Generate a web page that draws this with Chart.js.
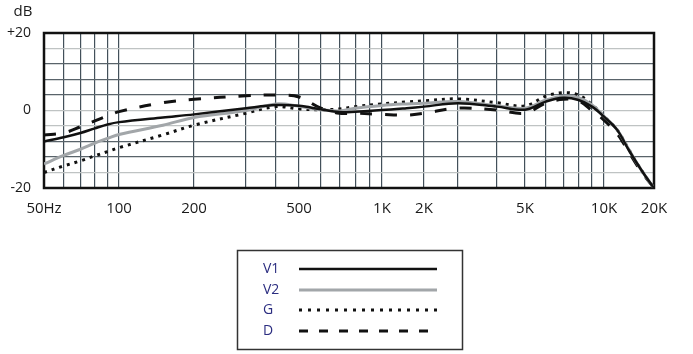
<!DOCTYPE html>
<html>
<head>
<meta charset="utf-8">
<script src="https://cdn.jsdelivr.net/npm/chart.js@4.4.1/dist/chart.umd.min.js"></script>
<style>
  html, body { margin: 0; padding: 0; background: #fff; }
  #wrap { width: 693px; height: 354px; position: relative; }
</style>
</head>
<body>
<div id="wrap"><canvas id="fr"></canvas></div>
<script>
// ====================== DATA ======================
const freqs = [50, 60, 70, 80, 90, 100, 150, 200, 300, 400, 500, 600, 700, 800, 1000, 1500,
  2000, 3000, 4000, 5000, 6000, 7000, 8000, 9000, 10000, 12000, 14000, 16000, 18000, 20000];

const v1 = [-8.0, -6.9, -5.8, -4.6, -3.6, -3.0, -1.8, -1.0, 0.6, 1.4, 1.2, 0.3, -0.4, -0.3, 0.1, 0.6,
  1.0, 1.9, 1.0, 0.2, 2.3, 3.3, 2.7, 1.0, -1.6, -5.0, -10.0, -14.0, -17.3, -20.0];
const v2 = [-13.8, -11.6, -10.0, -8.4, -7.2, -6.2, -3.8, -1.8, 0.0, 1.7, 1.1, 0.2, -0.1, 0.6, 1.3, 1.7,
  1.9, 2.3, 1.2, 0.6, 2.7, 3.7, 3.3, 1.4, -1.5, -5.0, -9.8, -14.0, -17.3, -20.0];
const g = [-16.0, -14.3, -13.0, -11.7, -10.6, -9.6, -6.3, -3.8, -0.7, 1.0, 0.4, 0.2, 0.4, 1.0, 1.7, 2.2,
  2.5, 3.0, 2.0, 1.2, 3.7, 4.6, 4.0, 1.5, -1.5, -5.0, -9.8, -14.0, -17.3, -20.0];
const d = [-6.3, -5.8, -4.2, -2.7, -1.4, -0.3, 2.0, 2.9, 3.8, 4.0, 3.5, 0.6, -0.7, -0.7, -1.0, -1.2,
  -0.7, 0.6, 0.1, -0.7, 1.9, 2.9, 2.5, 0.0, -2.5, -6.0, -10.5, -14.5, -17.5, -20.0];

const seriesNames = ["V1", "V2", "G", "D"];

// grid lines on the frequency axis, and which of them get a label
const gridFreqs = [50, 60, 70, 80, 90, 100, 200, 300, 400, 500, 600, 700, 800, 900, 1000,
  2000, 3000, 4000, 5000, 6000, 7000, 8000, 9000, 10000, 20000];
const freqLabels = { 50: "50Hz", 100: "100", 200: "200", 500: "500", 1000: "1K",
  2000: "2K", 5000: "5K", 10000: "10K", 20000: "20K" };
const dbLabels = { 20: "+20", 0: "0", "-20": "-20" };

// ====================== WARPED LOG AXIS ======================
// the printed chart is not a true log scale, so the axis is piecewise log
const axisKnots = [[50, 0], [100, 75], [200, 150], [300, 202], [400, 232], [500, 255],
  [1000, 338], [2000, 380], [3000, 414], [4000, 453], [5000, 481], [10000, 560], [20000, 610]];
const axisSpan = 610;

function warp(f) {
  const lf = Math.log(f);
  for (let i = 0; i < axisKnots.length - 1; i++) {
    const [f0, p0] = axisKnots[i];
    const [f1, p1] = axisKnots[i + 1];
    if (f <= f1 || i === axisKnots.length - 2) {
      const t = (lf - Math.log(f0)) / (Math.log(f1) - Math.log(f0));
      return (p0 + t * (p1 - p0)) / axisSpan;
    }
  }
  return 1;
}

function unwarp(u) {
  const p = u * axisSpan;
  for (let i = 0; i < axisKnots.length - 1; i++) {
    const [f0, p0] = axisKnots[i];
    const [f1, p1] = axisKnots[i + 1];
    if (p <= p1 || i === axisKnots.length - 2) {
      const t = (p - p0) / (p1 - p0);
      return Math.exp(Math.log(f0) + t * (Math.log(f1) - Math.log(f0)));
    }
  }
  return 20000;
}

class WarpScale extends Chart.LinearScale {
  getPixelForValue(v) {
    return v == null ? NaN : this.getPixelForDecimal(warp(v));
  }
  getValueForPixel(px) {
    return unwarp(this.getDecimalForPixel(px));
  }
}
WarpScale.id = "warpLog";
WarpScale.defaults = Chart.LinearScale.defaults;
Chart.register(WarpScale);

// ====================== EXTRAS (frame, dB, legend) ======================
const extras = {
  id: "extras",
  beforeDatasetsDraw(chart) {
    const { ctx, chartArea: a } = chart;
    ctx.save();
    ctx.strokeStyle = "#111";
    ctx.lineWidth = 2.5;
    ctx.strokeRect(a.left, a.top, a.right - a.left, a.bottom - a.top);
    ctx.restore();
  },
  afterDraw(chart) {
    const ctx = chart.ctx;
    ctx.save();
    ctx.fillStyle = "#1a1a1a";
    ctx.font = "15px 'Open Sans'";
    ctx.textAlign = "center";
    ctx.textBaseline = "middle";
    ctx.fillText("dB", 23, 12);

    // legend box
    ctx.strokeStyle = "#333";
    ctx.lineWidth = 1.5;
    ctx.strokeRect(237.5, 250.5, 225, 99);

    const rows = [269, 290, 310, 331];
    chart.data.datasets.forEach((ds, i) => {
      const y = rows[i];
      ctx.fillStyle = "#2b2d80";
      ctx.font = "14px 'Open Sans'";
      ctx.textAlign = "left";
      ctx.fillText(ds.label, 263, y);
      ctx.beginPath();
      ctx.strokeStyle = ds.borderColor;
      ctx.lineWidth = ds.borderWidth;
      ctx.setLineDash(ds.legendDash || []);
      ctx.moveTo(299, y);
      ctx.lineTo(437, y);
      ctx.stroke();
    });
    ctx.restore();
  }
};

// ====================== CHART ======================
const makePts = (vals) => freqs.map((f, i) => ({ x: f, y: vals[i] }));

const darkRows = [12, 8, 4, -8, -12];

new Chart(document.getElementById("fr"), {
  type: "line",
  data: {
    datasets: [
      { label: seriesNames[0], data: makePts(v1), borderColor: "#111", borderWidth: 2.5 },
      { label: seriesNames[1], data: makePts(v2), borderColor: "#a2a6a9", borderWidth: 3 },
      { label: seriesNames[2], data: makePts(g), borderColor: "#111", borderWidth: 3,
        borderDash: [3, 5], legendDash: [3, 6] },
      { label: seriesNames[3], data: makePts(d), borderColor: "#111", borderWidth: 3,
        borderDash: [12, 13], legendDash: [9, 11] }
    ]
  },
  options: {
    responsive: true,
    maintainAspectRatio: false,
    animation: false,
    layout: { padding: { left: 0, top: 33, right: 39, bottom: 0 } },
    elements: {
      point: { radius: 0 },
      line: { tension: 0.35, fill: false }
    },
    plugins: { legend: { display: false }, tooltip: { enabled: false } },
    scales: {
      x: {
        type: "warpLog",
        min: 50,
        max: 20000,
        afterBuildTicks: (s) => { s.ticks = gridFreqs.map(v => ({ value: v })); },
        afterFit: (s) => { s.height = 166; },
        border: { display: false },
        grid: { color: "#43505a", lineWidth: 1.2, drawTicks: false },
        ticks: {
          autoSkip: false, maxRotation: 0, minRotation: 0, padding: 12,
          color: "#1a1a1a", font: { family: "'Open Sans'", size: 15 },
          callback: (v) => freqLabels[v] || ""
        }
      },
      y: {
        min: -20,
        max: 20,
        afterFit: (s) => { s.width = 44; },
        border: { display: false },
        grid: {
          drawTicks: false,
          lineWidth: 1.2,
          color: (c) => darkRows.includes(c.tick.value) ? "#59636a" : "#bfc3c3"
        },
        ticks: {
          stepSize: 4, padding: 13, autoSkip: false,
          color: "#1a1a1a", font: { family: "'Open Sans'", size: 14 },
          callback: (v) => dbLabels[v] || ""
        }
      }
    }
  },
  plugins: [extras]
});
</script>
</body>
</html>
